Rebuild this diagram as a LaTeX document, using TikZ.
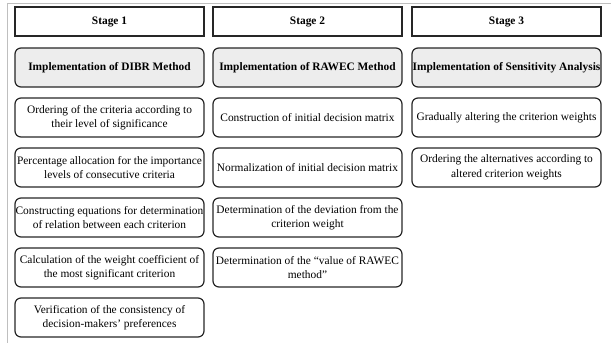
\documentclass[tikz,border=0pt]{standalone}
\usepackage{fontspec}
\setmainfont{Liberation Serif}
\begin{document}
\begin{tikzpicture}[x=1pt,y=-1pt,
  txt/.style={font=\fontsize{11.4}{14.5}\selectfont},
  stagebox/.style={draw=black!85, line width=1.2pt, minimum width=189pt, minimum height=29pt, inner sep=0pt, font=\bfseries\fontsize{11.4}{14.5}\selectfont},
  stepbox/.style={draw=black!85, line width=1.2pt, rounded corners=6pt, minimum width=189pt, minimum height=39pt, inner sep=0pt, align=center, txt},
  implbox/.style={stepbox, fill=black!7, font=\bfseries\fontsize{11.4}{14.5}\selectfont}]
\useasboundingbox (0,0) rectangle (611,343);
\draw[black!25, line width=1pt] (7.5,343) -- (7.5,3.5) -- (611,3.5);
% headers
\node[stagebox] (s1) at (109.5,21.5) {Stage 1};
\node[stagebox] (s2) at (307.5,21.5) {Stage 2};
\node[stagebox] (s3) at (506.5,21.5) {Stage 3};
% column 1
\node[implbox] (a1) at (109.5,67.5) {Implementation of DIBR Method};
\node[stepbox] (a2) at (109.5,117.5) {Ordering of the criteria according to\\their level of significance};
\node[stepbox] (a3) at (109.5,167.5) {Percentage allocation for the importance\\levels of consecutive criteria};
\node[stepbox] (a4) at (109.5,217.5) {Constructing equations for determination\\of relation between each criterion};
\node[stepbox] (a5) at (109.5,267.5) {Calculation of the weight coefficient of\\the most significant criterion};
\node[stepbox] (a6) at (109.5,317.5) {Verification of the consistency of\\decision-makers' preferences};
% column 2
\node[implbox] (b1) at (307.5,67.5) {Implementation of RAWEC Method};
\node[stepbox] (b2) at (307.5,117.5) {Construction of initial decision matrix};
\node[stepbox] (b3) at (307.5,167.5) {Normalization of initial decision matrix};
\node[stepbox] (b4) at (307.5,217.5) {Determination of the deviation from the\\criterion weight};
\node[stepbox] (b5) at (307.5,267.5) {Determination of the ``value of RAWEC\\method''};
% column 3
\node[implbox] (c1) at (506.5,67.5) {Implementation of Sensitivity Analysis};
\node[stepbox] (c2) at (506.5,117.5) {Gradually altering the criterion weights};
\node[stepbox] (c3) at (506.5,167.5) {Ordering the alternatives according to\\altered criterion weights};
\end{tikzpicture}
\end{document}
